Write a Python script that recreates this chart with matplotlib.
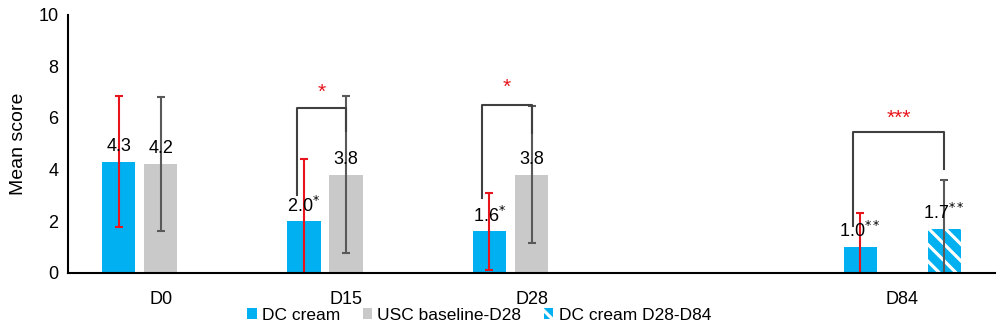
import matplotlib
matplotlib.use('Agg')
import matplotlib.pyplot as plt
from matplotlib.patches import Patch
import numpy as np

# Data
categories = ['D0', 'D15', 'D28', '', 'D84']
dc_cream = [4.3, 2.0, 1.6, np.nan, 1.0]
dc_err = [2.55, 2.4, 1.5, np.nan, 1.3]
usc = [4.2, 3.8, 3.8, np.nan, np.nan]
usc_err = [2.6, 3.05, 2.65, np.nan, np.nan]
dc_ext = [np.nan, np.nan, np.nan, np.nan, 1.7]
dc_ext_err = [np.nan, np.nan, np.nan, np.nan, 1.9]

dc_labels = ['4.3', '2.0$^{*}$', '1.6$^{*}$', '', '1.0$^{**}$']
usc_labels = ['4.2', '3.8', '3.8', '', '']
ext_labels = ['', '', '', '', '1.7$^{**}$']

# significance brackets: category, right series offset, top, left end, right end, stars, star height
brackets = [
    (1, 0, 6.4, 3.0, 5.5, '*', 7.0),
    (2, 0, 6.5, 2.9, 5.4, '*', 7.2),
    (4, 1, 5.45, 1.8, 4.0, '***', 6.0),
]

blue = '#00B0F0'
grey = '#C9C9C9'
red = '#E8141B'
dark = '#595959'

plt.rcParams['font.family'] = ['Liberation Sans', 'DejaVu Sans']
plt.rcParams['hatch.linewidth'] = 2.3

fig = plt.figure(figsize=(10, 3.3), dpi=100)
ax = fig.add_axes([0.068, 0.174, 0.927, 0.781])

x = np.arange(len(categories))
off = 0.227
w = 0.18

ax.bar(x - off, dc_cream, w, color=blue)
ax.bar(x, usc, w, color=grey)
ax.bar(x + off, dc_ext, w, color=blue, edgecolor='white', linewidth=0, hatch='\\\\')

ax.errorbar(x - off, dc_cream, yerr=dc_err, fmt='none', ecolor=red, elinewidth=1.5, capsize=3, capthick=1.5)
ax.errorbar(x, usc, yerr=usc_err, fmt='none', ecolor=dark, elinewidth=1.5, capsize=3, capthick=1.5)
ax.errorbar(x + off, dc_ext, yerr=dc_ext_err, fmt='none', ecolor=dark, elinewidth=1.5, capsize=3, capthick=1.5)

for series, labels, o in [(dc_cream, dc_labels, -off), (usc, usc_labels, 0), (dc_ext, ext_labels, off)]:
    for i, (v, lab) in enumerate(zip(series, labels)):
        if lab:
            ax.text(x[i] + o, v + 0.6, lab, ha='center', va='center', fontsize=13)

for cat, roff, top, lbot, rbot, stars, sy in brackets:
    xl = x[cat] - off - 0.04
    xr = x[cat] + roff * off
    ax.plot([xl, xl, xr, xr], [lbot, top, top, rbot], color='#404040', lw=1.5)
    ax.text((xl + xr) / 2, sy, stars, color=red, ha='center', va='center', fontsize=15)

ax.set_xlim(-0.5, len(categories) - 0.5)
ax.set_ylim(0, 10)
ax.set_yticks([0, 2, 4, 6, 8, 10])
ax.set_xticks(x)
ax.set_xticklabels(categories)
ax.tick_params(axis='both', length=0, labelsize=13)
ax.tick_params(axis='x', pad=13)
ax.tick_params(axis='y', pad=7)
ax.set_ylabel('Mean score', fontsize=14, labelpad=8)
ax.spines['top'].set_visible(False)
ax.spines['right'].set_visible(False)
ax.spines['left'].set_linewidth(1.5)
ax.spines['bottom'].set_linewidth(1.5)

handles = [
    Patch(facecolor=blue, label='DC cream'),
    Patch(facecolor=grey, label='USC baseline-D28'),
    Patch(facecolor=blue, edgecolor='white', linewidth=0, hatch='\\\\', label='DC cream D28-D84'),
]
fig.legend(handles=handles, loc='center', bbox_to_anchor=(0.479, 0.045), ncol=3, frameon=False,
           fontsize=12.5, handlelength=0.55, handleheight=0.55, handletextpad=0.3, columnspacing=1.3)

fig.savefig('out.png', dpi=100)
